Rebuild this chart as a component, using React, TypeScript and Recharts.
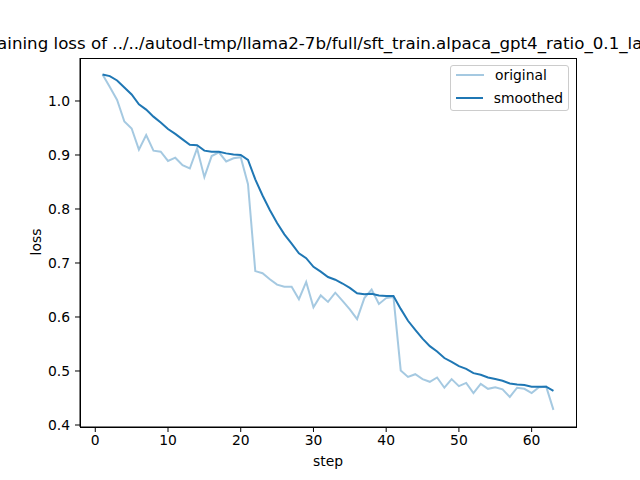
import { LineChart, Line, XAxis, YAxis } from "recharts";

const steps = [
  1, 2, 3, 4, 5, 6, 7, 8, 9, 10, 11, 12, 13, 14, 15, 16, 17, 18, 19, 20, 21,
  22, 23, 24, 25, 26, 27, 28, 29, 30, 31, 32, 33, 34, 35, 36, 37, 38, 39, 40,
  41, 42, 43, 44, 45, 46, 47, 48, 49, 50, 51, 52, 53, 54, 55, 56, 57, 58, 59,
  60, 61, 62, 63,
];

const original = [
  1.049, 1.026, 1.002, 0.962, 0.949, 0.91, 0.937, 0.908, 0.906, 0.889, 0.895,
  0.881, 0.875, 0.912, 0.859, 0.898, 0.905, 0.888, 0.894, 0.896, 0.846, 0.685,
  0.681, 0.67, 0.66, 0.656, 0.656, 0.633, 0.665, 0.618, 0.64, 0.628, 0.645,
  0.63, 0.614, 0.596, 0.635, 0.651, 0.624, 0.635, 0.637, 0.501, 0.489, 0.494,
  0.485, 0.48, 0.488, 0.469, 0.485, 0.472, 0.478, 0.459, 0.476, 0.467, 0.47,
  0.466, 0.452, 0.469, 0.467, 0.459, 0.47, 0.471, 0.428,
];

const smoothed = [
  1.049, 1.046, 1.038, 1.025, 1.012, 0.994, 0.984, 0.971, 0.96, 0.948, 0.939,
  0.929, 0.919, 0.918, 0.908, 0.906, 0.906, 0.903, 0.901, 0.9, 0.891, 0.855,
  0.825, 0.798, 0.774, 0.753, 0.736, 0.718, 0.709, 0.693, 0.684, 0.674, 0.669,
  0.662, 0.654, 0.644, 0.642, 0.643, 0.64, 0.639, 0.639, 0.615, 0.593, 0.576,
  0.56, 0.546, 0.536, 0.524, 0.517, 0.509, 0.504, 0.496, 0.493, 0.488, 0.485,
  0.482, 0.477, 0.475, 0.474, 0.471, 0.471, 0.471, 0.463,
];

const xTicks = [0, 10, 20, 30, 40, 50, 60];
const yTicks = [0.4, 0.5, 0.6, 0.7, 0.8, 0.9, 1.0];

// the title is wider than the figure, matplotlib just clips it on both sides
const title =
  "Training loss of ../../autodl-tmp/llama2-7b/full/sft_train.alpaca_gpt4_ratio_0.1_la";

const FONT = "'DejaVu Sans', sans-serif";
const BLUE = "#1f77b4";

const data = steps.map((step, i) => ({
  step,
  original: original[i],
  smoothed: smoothed[i],
}));

function LegendBox() {
  const rows = [
    { name: "original", opacity: 0.4 },
    { name: "smoothed", opacity: 1 },
  ];
  return (
    <div
      style={{
        position: "absolute",
        left: 450,
        top: 65,
        boxSizing: "border-box",
        width: 119,
        height: 46,
        border: "1px solid #cccccc",
        borderRadius: 3,
        background: "rgba(255,255,255,0.8)",
        padding: "1px 5px 0 5px",
        fontFamily: FONT,
        fontSize: 13.89,
        color: "#000",
      }}
    >
      {rows.map((r, i) => (
        <div
          key={r.name}
          style={{
            display: "flex",
            alignItems: "center",
            height: 16,
            marginTop: i ? 7 : 0,
          }}
        >
          <svg width={28} height={4} style={{ marginRight: 11 }}>
            <line x1={0} y1={2} x2={28} y2={2} stroke={BLUE} strokeOpacity={r.opacity} strokeWidth={2} />
          </svg>
          <span>{r.name}</span>
        </div>
      ))}
    </div>
  );
}

export default function App() {
  const tick = { fill: "#000", fontSize: 13.89, fontFamily: FONT };
  return (
    <div
      style={{
        position: "absolute",
        left: 0,
        top: 0,
        width: 640,
        height: 480,
        overflow: "hidden",
        background: "#fff",
      }}
    >
      <svg width={640} height={60} style={{ position: "absolute", left: 0, top: 0 }}>
        <text x={-17.5} y={49} fontFamily={FONT} fontSize={16.67} fill="#000">
          {title}
        </text>
      </svg>
      <LineChart
        width={640}
        height={480}
        data={data}
        margin={{ top: 58, right: 64, bottom: 0, left: 0 }}
      >
        <XAxis
          dataKey="step"
          type="number"
          domain={[-2.1, 66.1]}
          ticks={xTicks}
          allowDataOverflow
          height={53}
          tickSize={5}
          tickMargin={3}
          tick={tick}
          axisLine={{ stroke: "#000" }}
          tickLine={{ stroke: "#000" }}
          label={() => (
            <text x={328} y={466} textAnchor="middle" fontFamily={FONT} fontSize={13.89} fill="#000">
              step
            </text>
          )}
        />
        <YAxis
          type="number"
          domain={[0.3963, 1.0796]}
          ticks={yTicks}
          allowDataOverflow
          width={80}
          tickSize={5}
          tickMargin={5}
          tick={tick}
          tickFormatter={(v: number) => v.toFixed(1)}
          axisLine={{ stroke: "#000" }}
          tickLine={{ stroke: "#000" }}
          label={() => (
            <text
              x={41}
              y={242}
              transform="rotate(-90, 41, 242)"
              textAnchor="middle"
              fontFamily={FONT}
              fontSize={13.89}
              fill="#000"
            >
              loss
            </text>
          )}
        />
        <Line
          dataKey="original"
          stroke={BLUE}
          strokeOpacity={0.4}
          strokeWidth={2}
          dot={false}
          isAnimationActive={false}
        />
        <Line
          dataKey="smoothed"
          stroke={BLUE}
          strokeWidth={2}
          dot={false}
          isAnimationActive={false}
        />
      </LineChart>
      <LegendBox />
      <div
        style={{
          position: "absolute",
          left: 80,
          top: 58,
          width: 497,
          height: 370,
          boxSizing: "border-box",
          border: "1px solid #000",
          pointerEvents: "none",
        }}
      />
    </div>
  );
}
